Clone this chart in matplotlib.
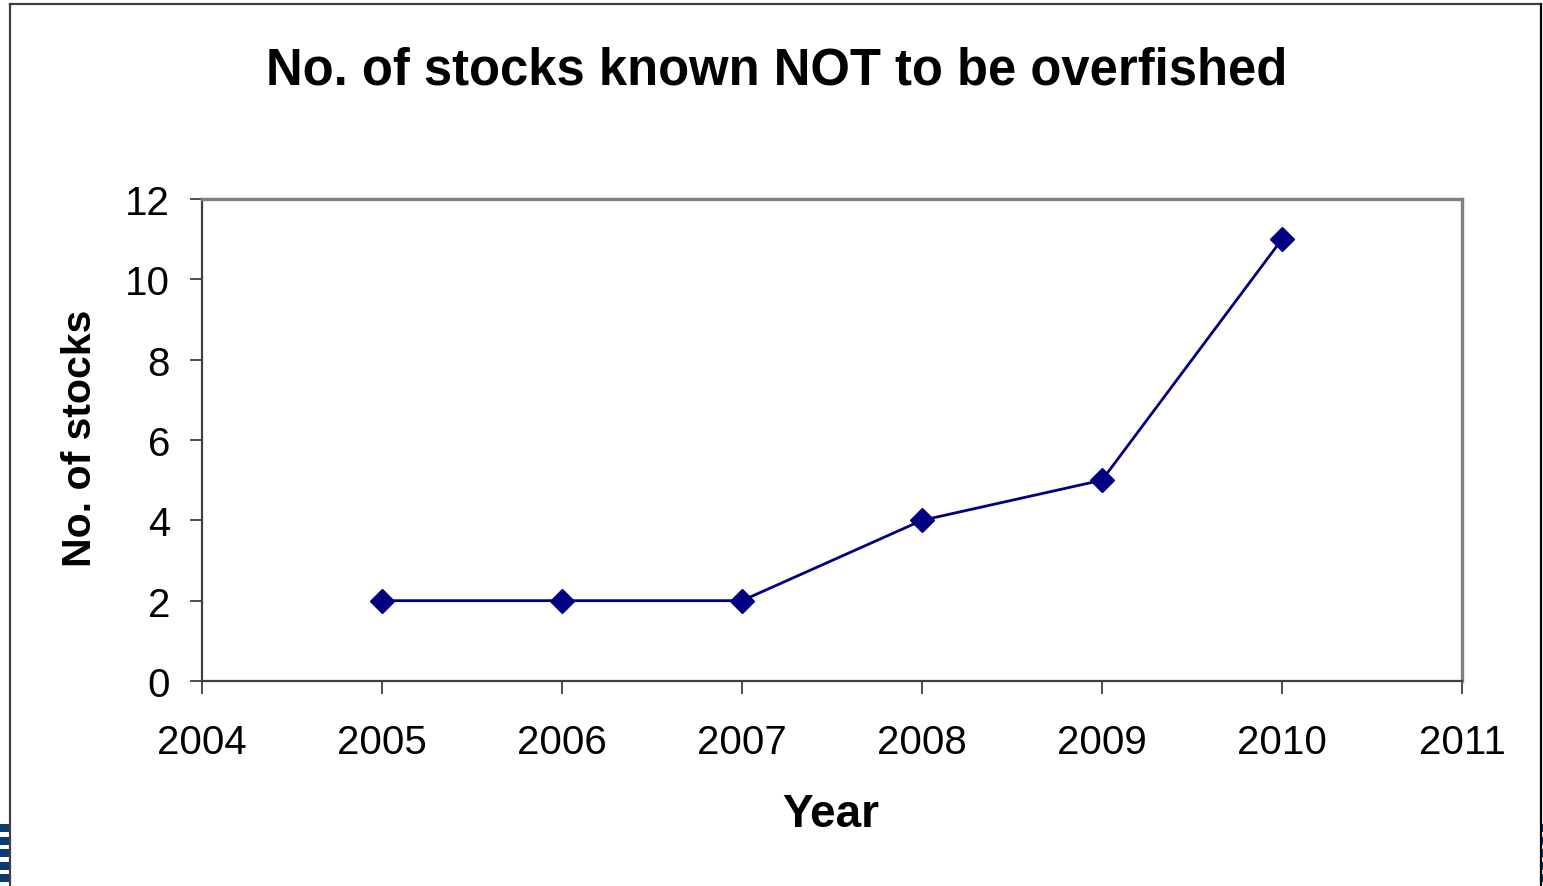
import matplotlib
matplotlib.use("Agg")
import matplotlib.pyplot as plt
from matplotlib.patches import Rectangle
from matplotlib.lines import Line2D

years = [2005, 2006, 2007, 2008, 2009, 2010]
stocks = [2, 2, 2, 4, 5, 11]
x_ticks = [2004, 2005, 2006, 2007, 2008, 2009, 2010, 2011]
y_ticks = [0, 2, 4, 6, 8, 10, 12]

plt.rcParams['font.family'] = ['Liberation Sans', 'DejaVu Sans']

W, H = 1543, 887
fig = plt.figure(figsize=(W / 100, H / 100), dpi=100)
fig.patch.set_facecolor('white')

# outer slide/chart border
fig.add_artist(Line2D([10 / W, 10 / W], [0, 1 - 5 / H], transform=fig.transFigure, color='#404040', lw=1.6))
fig.add_artist(Line2D([10 / W, 1541 / W], [1 - 5 / H, 1 - 5 / H], transform=fig.transFigure, color='#404040', lw=1.6))
fig.add_artist(Line2D([1541 / W, 1541 / W], [0, 1 - 5 / H], transform=fig.transFigure, color='black', lw=1.6))

# small blue stripes at bottom corners
for i in range(5):
    y0 = 1 - (825 + i * 12.5) / H
    fig.add_artist(Rectangle((0, y0 - 8 / H), 9 / W, 8 / H, transform=fig.transFigure,
                             facecolor='#0a3d6b', edgecolor='none'))
    fig.add_artist(Rectangle((1542 / W, y0 - 8 / H), 2 / W, 8 / H, transform=fig.transFigure,
                             facecolor='#0a3d6b', edgecolor='none'))

ax = fig.add_axes([202 / W, 1 - 682 / H, (1462 - 202) / W, (682 - 200) / H])
ax.plot(years, stocks, color='#000080', lw=2.0, marker='D', markersize=12,
        markerfacecolor='#000080', markeredgecolor='#000080', markeredgewidth=1.0)

ax.set_xlim(2004, 2011)
ax.set_ylim(0, 12)
ax.set_xticks(x_ticks)
ax.set_yticks(y_ticks)
ax.set_xticklabels([str(v) for v in x_ticks])
ax.set_yticklabels([str(v) for v in y_ticks])
ax.tick_params(axis='both', labelsize=29, length=9, width=1.2, color='#303030', direction='out')
ax.tick_params(axis='x', pad=21)
ax.tick_params(axis='y', pad=14)

for s in ['left', 'bottom']:
    ax.spines[s].set_color('#404040')
    ax.spines[s].set_linewidth(1.6)
for s in ['top', 'right']:
    ax.spines[s].set_color('#808080')
    ax.spines[s].set_linewidth(2.4)

fig.text(777 / W, 1 - 71 / H, 'No. of stocks known NOT to be overfished', ha='center', va='center',
         fontsize=36.5, fontweight='bold')
fig.text(80 / W, 1 - 438 / H, 'No. of stocks', ha='center', va='center', rotation=90,
         fontsize=29.5, fontweight='bold')
fig.text(831 / W, 1 - 815 / H, 'Year', ha='center', va='center', fontsize=33, fontweight='bold')

fig.savefig('out.png', dpi=100)
